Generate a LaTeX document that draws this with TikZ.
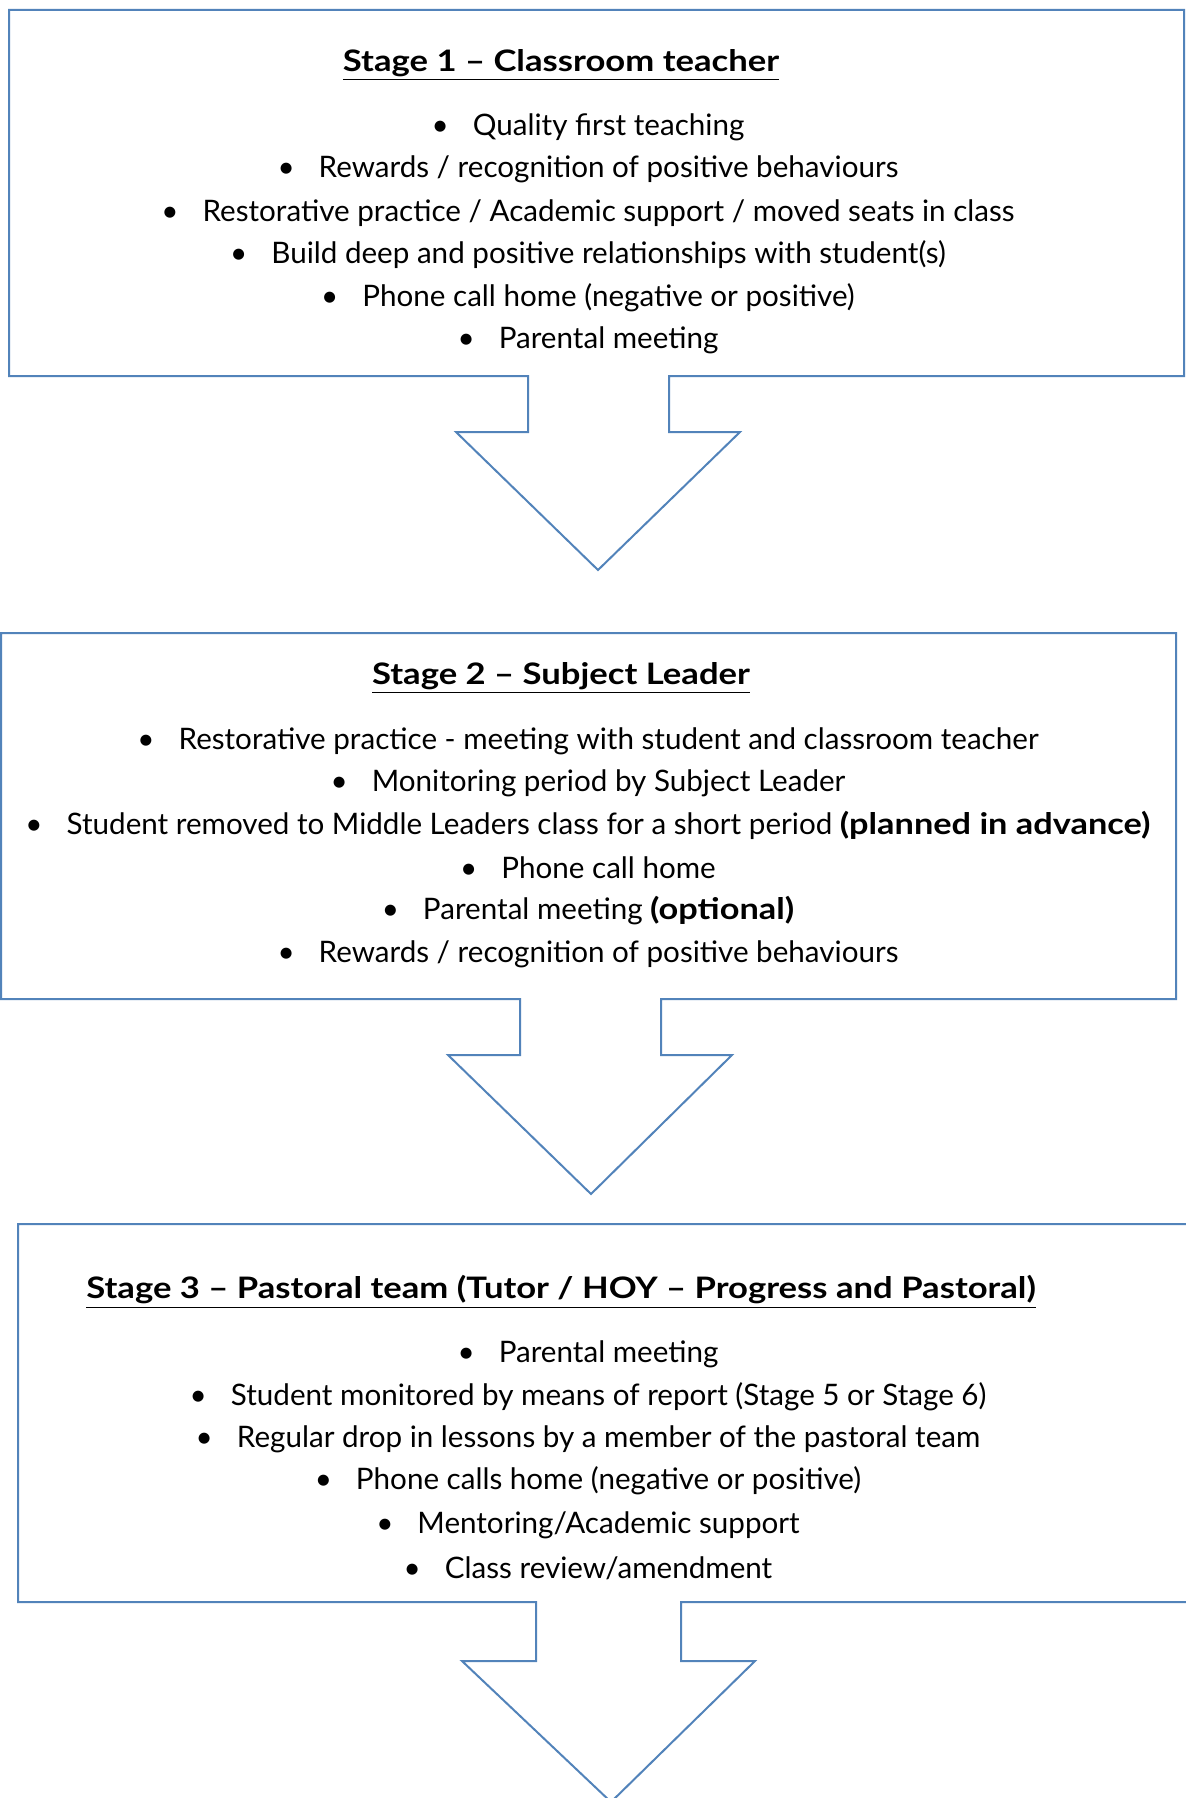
\documentclass[tikz,border=0pt]{standalone}
\usepackage{fontspec}
\usepackage{graphicx}
\setmainfont{Lato}
\definecolor{boxblue}{HTML}{5283BA}
\newcommand{\bul}[1]{\makebox[20.6pt][l]{\textbullet}#1}
\newcommand{\bld}[1]{\scalebox{1.16}[1]{\textbf{#1}}}
\newcommand{\stagetitle}[1]{\scalebox{1.17}[1]{\underline{\textbf{#1}}}}
\begin{document}
\begin{tikzpicture}[x=0.5pt,y=-0.5pt]

    \useasboundingbox (0,0) rectangle (1186,1798);

    \tikzset{stagebox/.style={draw=boxblue,line width=1pt,line join=miter}}
    \tikzset{titlestyle/.style={font=\fontsize{14.8}{17}\selectfont,inner sep=0pt}}
    \tikzset{itemstyle/.style={font=\fontsize{14.8}{17}\selectfont,inner sep=0pt}}

    % Stage 1
    \draw[stagebox] (528,376) -- (9,376) -- (9,10) -- (1184,10) -- (1184,376)
        -- (669,376) -- (669,432) -- (740,432) -- (598,570) -- (456,432)
        -- (528,432) -- cycle;

    \node[titlestyle] (t1) at (561,65) {\stagetitle{Stage 1 -- Classroom teacher}};
    \node[itemstyle] (a1) at (588,127) {\bul{Quality first teaching}};
    \node[itemstyle] (a2) at (588,169) {\bul{Rewards / recognition of positive behaviours}};
    \node[itemstyle] (a3) at (588,213) {\bul{Restorative practice / Academic support / moved seats in class}};
    \node[itemstyle] (a4) at (588,255) {\bul{Build deep and positive relationships with student(s)}};
    \node[itemstyle] (a5) at (588,298) {\bul{Phone call home (negative or positive)}};
    \node[itemstyle] (a6) at (588,340) {\bul{Parental meeting}};

    % Stage 2
    \draw[stagebox] (520,999) -- (1,999) -- (1,633) -- (1176,633) -- (1176,999)
        -- (661,999) -- (661,1055) -- (732,1055) -- (591,1194) -- (448,1055)
        -- (520,1055) -- cycle;

    \node[titlestyle] (t2) at (561,678) {\stagetitle{Stage 2 -- Subject Leader}};
    \node[itemstyle] (b1) at (588,741) {\bul{Restorative practice - meeting with student and classroom teacher}};
    \node[itemstyle] (b2) at (588,783) {\bul{Monitoring period by Subject Leader}};
    \node[itemstyle] (b3) at (588,825) {\bul{Student removed to Middle Leaders class for a short period \bld{(planned in advance)}}};
    \node[itemstyle] (b4) at (588,868) {\bul{Phone call home}};
    \node[itemstyle] (b5) at (588,911) {\bul{Parental meeting \bld{(optional)}}};
    \node[itemstyle] (b6) at (588,954) {\bul{Rewards / recognition of positive behaviours}};

    % Stage 3
    \draw[stagebox] (536,1602) -- (18,1602) -- (18,1224) -- (1195,1224) -- (1195,1602)
        -- (681,1602) -- (681,1661) -- (755,1661) -- (611,1802) -- (462,1661)
        -- (536,1661) -- cycle;

    \node[titlestyle] (t3) at (561,1292) {\stagetitle{Stage 3 -- Pastoral team (Tutor / HOY -- Progress and Pastoral)}};
    \node[itemstyle] (c1) at (588,1354) {\bul{Parental meeting}};
    \node[itemstyle] (c2) at (588,1397) {\bul{Student monitored by means of report (Stage 5 or Stage 6)}};
    \node[itemstyle] (c3) at (588,1439) {\bul{Regular drop in lessons by a member of the pastoral team}};
    \node[itemstyle] (c4) at (588,1481) {\bul{Phone calls home (negative or positive)}};
    \node[itemstyle] (c5) at (588,1525) {\bul{Mentoring/Academic support}};
    \node[itemstyle] (c6) at (588,1568) {\bul{Class review/amendment}};

\end{tikzpicture}
\end{document}
